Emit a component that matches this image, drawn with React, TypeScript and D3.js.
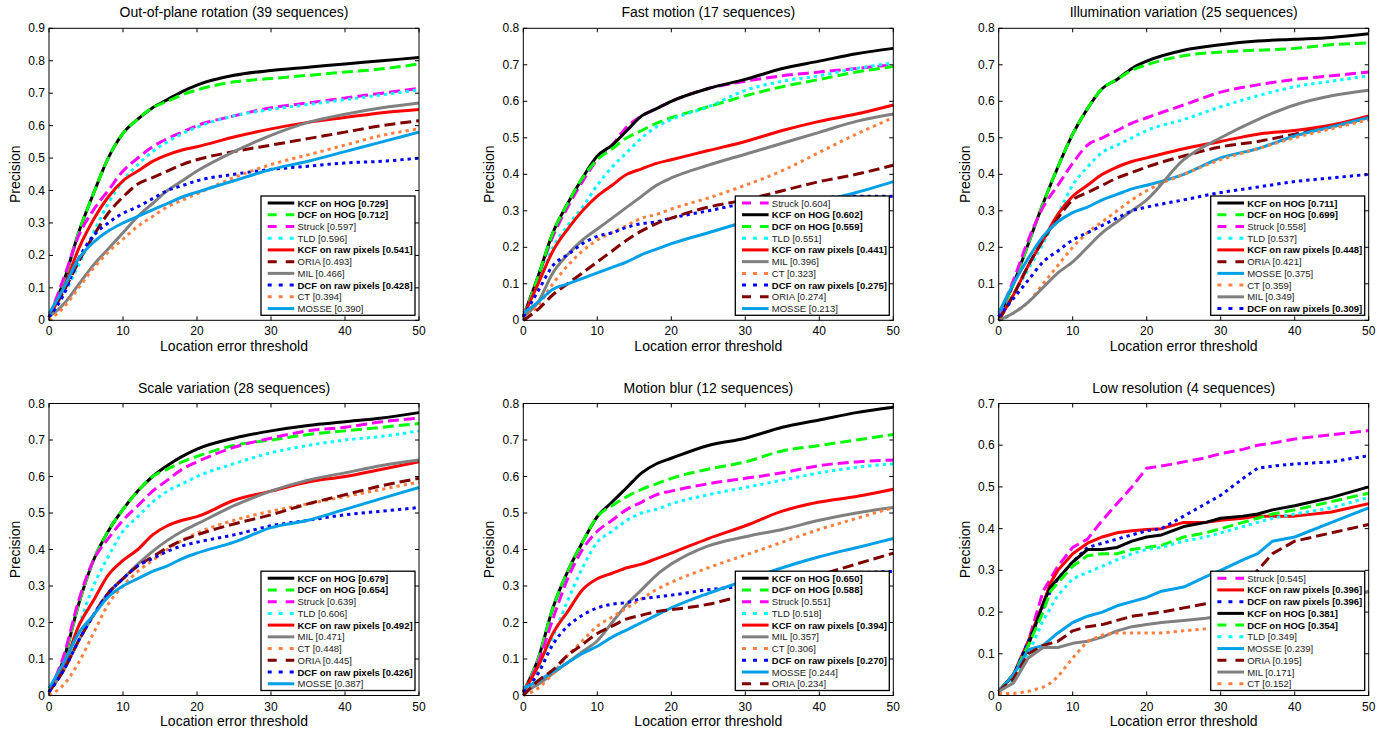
import React from "react";
import * as d3 from "d3";

const FONT = "'Liberation Sans', Arial, Helvetica, sans-serif";

// x positions (location error threshold) at which curves were read
const X_STD = [0, 2, 4, 6, 8, 10, 12, 14, 16, 18, 20, 25, 30, 35, 40, 45, 50];
const X_LOWRES = [0, 2, 4, 6, 7, 8, 10, 12, 14, 16, 18, 20, 22, 25, 28, 30, 33, 35, 37, 40, 45, 50];
const X_TICKS = [0, 10, 20, 30, 40, 50];

// ---------- Out-of-plane rotation ----------
const OPR_NAMES = ["KCF on HOG", "DCF on HOG", "Struck", "TLD", "KCF on raw pixels", "ORIA", "MIL", "DCF on raw pixels", "CT", "MOSSE"];
const OPR_SCORES = ["0.729", "0.712", "0.597", "0.596", "0.541", "0.493", "0.466", "0.428", "0.394", "0.390"];
const opr_kcfHog = [0.01, 0.12, 0.27, 0.39, 0.5, 0.576, 0.62, 0.655, 0.68, 0.705, 0.725, 0.755, 0.77, 0.78, 0.79, 0.8, 0.81];
const opr_dcfHog = [0.01, 0.12, 0.27, 0.39, 0.5, 0.576, 0.62, 0.655, 0.675, 0.695, 0.71, 0.735, 0.745, 0.755, 0.765, 0.775, 0.79];
const opr_struck = [0.01, 0.13, 0.26, 0.34, 0.4, 0.46, 0.5, 0.535, 0.56, 0.58, 0.6, 0.63, 0.655, 0.67, 0.685, 0.7, 0.715];
const opr_tld = [0.01, 0.08, 0.17, 0.27, 0.36, 0.43, 0.48, 0.52, 0.55, 0.575, 0.595, 0.63, 0.65, 0.665, 0.68, 0.695, 0.71];
const opr_kcfRaw = [0.01, 0.1, 0.22, 0.31, 0.38, 0.43, 0.46, 0.49, 0.51, 0.525, 0.535, 0.565, 0.59, 0.61, 0.625, 0.64, 0.65];
const opr_oria = [0.01, 0.09, 0.18, 0.26, 0.33, 0.38, 0.42, 0.44, 0.46, 0.48, 0.495, 0.52, 0.54, 0.56, 0.58, 0.6, 0.615];
const opr_mil = [0.01, 0.05, 0.11, 0.17, 0.22, 0.27, 0.32, 0.36, 0.4, 0.43, 0.46, 0.52, 0.57, 0.61, 0.635, 0.655, 0.67];
const opr_dcfRaw = [0.01, 0.08, 0.19, 0.26, 0.3, 0.33, 0.35, 0.375, 0.4, 0.415, 0.43, 0.45, 0.465, 0.475, 0.485, 0.49, 0.5];
const opr_ct = [0.0, 0.04, 0.1, 0.16, 0.21, 0.25, 0.29, 0.32, 0.35, 0.37, 0.39, 0.44, 0.48, 0.51, 0.54, 0.57, 0.59];
const opr_mosse = [0.02, 0.1, 0.19, 0.24, 0.275, 0.3, 0.32, 0.34, 0.36, 0.38, 0.395, 0.43, 0.465, 0.49, 0.52, 0.55, 0.58];

// ---------- Fast motion ----------
const FM_NAMES = ["Struck", "KCF on HOG", "DCF on HOG", "TLD", "KCF on raw pixels", "MIL", "CT", "DCF on raw pixels", "ORIA", "MOSSE"];
const FM_SCORES = ["0.604", "0.602", "0.559", "0.551", "0.441", "0.396", "0.323", "0.275", "0.274", "0.213"];
const fm_struck = [0.01, 0.12, 0.23, 0.31, 0.38, 0.44, 0.48, 0.53, 0.56, 0.58, 0.6, 0.635, 0.655, 0.67, 0.68, 0.69, 0.7];
const fm_kcfHog = [0.01, 0.12, 0.24, 0.32, 0.39, 0.45, 0.48, 0.52, 0.56, 0.58, 0.6, 0.635, 0.66, 0.69, 0.71, 0.73, 0.745];
const fm_dcfHog = [0.01, 0.12, 0.24, 0.32, 0.39, 0.44, 0.47, 0.5, 0.52, 0.54, 0.555, 0.585, 0.615, 0.64, 0.66, 0.68, 0.695];
const fm_tld = [0.01, 0.1, 0.2, 0.26, 0.31, 0.37, 0.42, 0.46, 0.5, 0.53, 0.55, 0.585, 0.63, 0.655, 0.67, 0.69, 0.705];
const fm_kcfRaw = [0.01, 0.1, 0.19, 0.25, 0.3, 0.34, 0.37, 0.4, 0.415, 0.43, 0.44, 0.465, 0.49, 0.52, 0.545, 0.565, 0.59];
const fm_mil = [0.01, 0.05, 0.13, 0.18, 0.22, 0.25, 0.28, 0.31, 0.34, 0.37, 0.39, 0.425, 0.455, 0.485, 0.515, 0.545, 0.565];
const fm_ct = [0.0, 0.04, 0.1, 0.15, 0.19, 0.22, 0.24, 0.26, 0.28, 0.29, 0.305, 0.335, 0.37, 0.41, 0.46, 0.51, 0.555];
const fm_dcfRaw = [0.01, 0.08, 0.15, 0.18, 0.21, 0.23, 0.24, 0.255, 0.265, 0.27, 0.28, 0.3, 0.32, 0.33, 0.335, 0.34, 0.34];
const fm_oria = [0.0, 0.03, 0.07, 0.1, 0.13, 0.16, 0.19, 0.22, 0.245, 0.265, 0.28, 0.31, 0.33, 0.355, 0.38, 0.4, 0.425];
const fm_mosse = [0.02, 0.05, 0.085, 0.1, 0.115, 0.13, 0.145, 0.16, 0.18, 0.195, 0.21, 0.24, 0.27, 0.295, 0.325, 0.35, 0.38];

// ---------- Illumination variation ----------
const IV_NAMES = ["KCF on HOG", "DCF on HOG", "Struck", "TLD", "KCF on raw pixels", "ORIA", "MOSSE", "CT", "MIL", "DCF on raw pixels"];
const IV_SCORES = ["0.711", "0.699", "0.558", "0.537", "0.448", "0.421", "0.375", "0.359", "0.349", "0.309"];
const iv_kcfHog = [0.01, 0.1, 0.21, 0.32, 0.42, 0.51, 0.58, 0.635, 0.66, 0.69, 0.71, 0.74, 0.755, 0.765, 0.77, 0.775, 0.785];
const iv_dcfHog = [0.01, 0.1, 0.21, 0.32, 0.42, 0.51, 0.58, 0.635, 0.66, 0.685, 0.7, 0.725, 0.735, 0.74, 0.745, 0.755, 0.76];
const iv_struck = [0.01, 0.11, 0.22, 0.31, 0.37, 0.43, 0.48, 0.5, 0.52, 0.54, 0.555, 0.59, 0.625, 0.645, 0.66, 0.67, 0.68];
const iv_tld = [0.01, 0.07, 0.14, 0.21, 0.29, 0.37, 0.42, 0.46, 0.48, 0.5, 0.52, 0.55, 0.585, 0.615, 0.64, 0.655, 0.67];
const iv_kcfRaw = [0.0, 0.07, 0.15, 0.22, 0.29, 0.34, 0.37, 0.4, 0.42, 0.435, 0.445, 0.47, 0.49, 0.51, 0.52, 0.535, 0.56];
const iv_oria = [0.0, 0.07, 0.15, 0.22, 0.28, 0.33, 0.35, 0.37, 0.39, 0.405, 0.42, 0.45, 0.475, 0.49, 0.51, 0.53, 0.555];
const iv_mosse = [0.02, 0.1, 0.17, 0.23, 0.27, 0.295, 0.31, 0.33, 0.345, 0.36, 0.37, 0.4, 0.445, 0.47, 0.505, 0.53, 0.555];
const iv_ct = [0.0, 0.02, 0.05, 0.1, 0.15, 0.2, 0.24, 0.27, 0.3, 0.33, 0.355, 0.4, 0.44, 0.47, 0.5, 0.525, 0.55];
const iv_mil = [0.0, 0.02, 0.05, 0.09, 0.13, 0.16, 0.2, 0.24, 0.27, 0.3, 0.33, 0.44, 0.5, 0.55, 0.59, 0.615, 0.63];
const iv_dcfRaw = [0.01, 0.06, 0.11, 0.16, 0.19, 0.22, 0.24, 0.26, 0.28, 0.3, 0.31, 0.33, 0.35, 0.365, 0.38, 0.39, 0.4];

// ---------- Scale variation ----------
const SV_NAMES = ["KCF on HOG", "DCF on HOG", "Struck", "TLD", "KCF on raw pixels", "MIL", "CT", "ORIA", "DCF on raw pixels", "MOSSE"];
const SV_SCORES = ["0.679", "0.654", "0.639", "0.606", "0.492", "0.471", "0.448", "0.445", "0.426", "0.387"];
const sv_kcfHog = [0.01, 0.1, 0.25, 0.37, 0.45, 0.51, 0.56, 0.6, 0.63, 0.655, 0.675, 0.705, 0.725, 0.74, 0.75, 0.76, 0.775];
const sv_dcfHog = [0.01, 0.1, 0.25, 0.37, 0.45, 0.51, 0.56, 0.6, 0.62, 0.64, 0.655, 0.685, 0.7, 0.715, 0.725, 0.735, 0.745];
const sv_struck = [0.01, 0.11, 0.26, 0.37, 0.43, 0.48, 0.52, 0.56, 0.59, 0.62, 0.64, 0.68, 0.705, 0.725, 0.735, 0.75, 0.76];
const sv_tld = [0.01, 0.08, 0.19, 0.3, 0.38, 0.45, 0.49, 0.53, 0.56, 0.58, 0.6, 0.635, 0.665, 0.685, 0.7, 0.71, 0.725];
const sv_kcfRaw = [0.01, 0.08, 0.19, 0.26, 0.33, 0.37, 0.4, 0.44, 0.465, 0.48, 0.49, 0.535, 0.56, 0.585, 0.6, 0.62, 0.64];
const sv_mil = [0.01, 0.07, 0.15, 0.22, 0.28, 0.32, 0.36, 0.395, 0.425, 0.45, 0.47, 0.52, 0.56, 0.59, 0.61, 0.63, 0.645];
const sv_ct = [0.0, 0.03, 0.09, 0.17, 0.25, 0.3, 0.34, 0.37, 0.4, 0.425, 0.445, 0.48, 0.505, 0.525, 0.545, 0.565, 0.585];
const sv_oria = [0.01, 0.07, 0.15, 0.22, 0.28, 0.32, 0.355, 0.38, 0.405, 0.425, 0.44, 0.47, 0.495, 0.525, 0.55, 0.575, 0.595];
const sv_dcfRaw = [0.01, 0.07, 0.15, 0.22, 0.28, 0.32, 0.355, 0.375, 0.395, 0.41, 0.42, 0.44, 0.465, 0.48, 0.495, 0.505, 0.515];
const sv_mosse = [0.02, 0.09, 0.17, 0.22, 0.27, 0.3, 0.32, 0.34, 0.355, 0.375, 0.39, 0.42, 0.46, 0.48, 0.51, 0.54, 0.57];

// ---------- Motion blur ----------
const MB_NAMES = ["KCF on HOG", "DCF on HOG", "Struck", "TLD", "KCF on raw pixels", "MIL", "CT", "DCF on raw pixels", "MOSSE", "ORIA"];
const MB_SCORES = ["0.650", "0.588", "0.551", "0.518", "0.394", "0.357", "0.306", "0.270", "0.244", "0.234"];
const mb_kcfHog = [0.01, 0.1, 0.24, 0.34, 0.42, 0.49, 0.53, 0.57, 0.61, 0.635, 0.65, 0.685, 0.705, 0.735, 0.755, 0.775, 0.79];
const mb_dcfHog = [0.01, 0.1, 0.24, 0.34, 0.42, 0.49, 0.52, 0.545, 0.565, 0.58, 0.595, 0.62, 0.64, 0.67, 0.685, 0.7, 0.715];
const mb_struck = [0.01, 0.09, 0.21, 0.32, 0.4, 0.45, 0.48, 0.51, 0.53, 0.55, 0.56, 0.58, 0.595, 0.61, 0.63, 0.64, 0.645];
const mb_tld = [0.01, 0.07, 0.16, 0.26, 0.35, 0.42, 0.45, 0.48, 0.5, 0.51, 0.525, 0.55, 0.57, 0.59, 0.61, 0.625, 0.635];
const mb_kcfRaw = [0.01, 0.08, 0.17, 0.23, 0.29, 0.32, 0.335, 0.35, 0.36, 0.375, 0.39, 0.43, 0.465, 0.505, 0.53, 0.545, 0.565];
const mb_mil = [0.01, 0.03, 0.06, 0.09, 0.12, 0.15, 0.2, 0.25, 0.29, 0.33, 0.36, 0.41, 0.435, 0.455, 0.48, 0.5, 0.515];
const mb_ct = [0.0, 0.02, 0.06, 0.11, 0.15, 0.19, 0.215, 0.24, 0.265, 0.29, 0.31, 0.35, 0.385, 0.42, 0.455, 0.485, 0.515];
const mb_dcfRaw = [0.01, 0.06, 0.14, 0.19, 0.22, 0.24, 0.25, 0.255, 0.265, 0.27, 0.275, 0.29, 0.3, 0.315, 0.325, 0.335, 0.34];
const mb_mosse = [0.02, 0.04, 0.065, 0.09, 0.115, 0.135, 0.16, 0.18, 0.2, 0.22, 0.24, 0.28, 0.315, 0.35, 0.38, 0.405, 0.43];
const mb_oria = [0.0, 0.04, 0.07, 0.11, 0.14, 0.17, 0.19, 0.21, 0.22, 0.23, 0.235, 0.25, 0.275, 0.3, 0.33, 0.36, 0.39];

// ---------- Low resolution ----------
const LR_NAMES = ["Struck", "KCF on raw pixels", "DCF on raw pixels", "KCF on HOG", "DCF on HOG", "TLD", "MOSSE", "ORIA", "MIL", "CT"];
const LR_SCORES = ["0.545", "0.396", "0.396", "0.381", "0.354", "0.349", "0.239", "0.195", "0.171", "0.152"];
const lr_struck = [0.01, 0.05, 0.13, 0.25, 0.28, 0.31, 0.355, 0.375, 0.42, 0.46, 0.5, 0.545, 0.55, 0.56, 0.57, 0.58, 0.59, 0.6, 0.605, 0.615, 0.625, 0.635];
const lr_kcfRaw = [0.01, 0.05, 0.13, 0.22, 0.27, 0.3, 0.34, 0.365, 0.38, 0.39, 0.395, 0.398, 0.4, 0.415, 0.415, 0.42, 0.425, 0.43, 0.43, 0.43, 0.44, 0.46];
const lr_dcfRaw = [0.01, 0.05, 0.13, 0.21, 0.25, 0.28, 0.32, 0.355, 0.365, 0.375, 0.385, 0.395, 0.4, 0.43, 0.46, 0.48, 0.52, 0.545, 0.55, 0.555, 0.56, 0.575];
const lr_kcfHog = [0.01, 0.05, 0.12, 0.22, 0.26, 0.28, 0.32, 0.35, 0.35, 0.355, 0.37, 0.38, 0.385, 0.405, 0.415, 0.425, 0.43, 0.435, 0.445, 0.455, 0.475, 0.5];
const lr_dcfHog = [0.01, 0.05, 0.12, 0.2, 0.25, 0.27, 0.31, 0.335, 0.34, 0.34, 0.35, 0.355, 0.36, 0.38, 0.39, 0.4, 0.415, 0.425, 0.435, 0.445, 0.465, 0.485];
const lr_tld = [0.01, 0.04, 0.1, 0.18, 0.21, 0.24, 0.28, 0.295, 0.31, 0.325, 0.34, 0.35, 0.355, 0.37, 0.38, 0.39, 0.405, 0.415, 0.425, 0.435, 0.45, 0.475];
const lr_mosse = [0.01, 0.05, 0.11, 0.12, 0.135, 0.15, 0.175, 0.19, 0.2, 0.215, 0.225, 0.235, 0.25, 0.26, 0.285, 0.3, 0.325, 0.34, 0.37, 0.38, 0.415, 0.45];
const lr_oria = [0.01, 0.04, 0.1, 0.12, 0.125, 0.13, 0.155, 0.165, 0.17, 0.18, 0.19, 0.195, 0.2, 0.21, 0.22, 0.23, 0.26, 0.3, 0.34, 0.37, 0.39, 0.41];
const lr_mil = [0.01, 0.03, 0.09, 0.115, 0.115, 0.115, 0.125, 0.13, 0.14, 0.155, 0.165, 0.17, 0.175, 0.18, 0.185, 0.19, 0.195, 0.2, 0.205, 0.21, 0.22, 0.25];
const lr_ct = [0.005, 0.005, 0.01, 0.02, 0.03, 0.045, 0.09, 0.13, 0.145, 0.15, 0.15, 0.15, 0.15, 0.155, 0.16, 0.165, 0.17, 0.17, 0.175, 0.18, 0.195, 0.22];

type Dash = "solid" | "dashed" | "dotted";
const STYLE: Record<string, { color: string; dash: Dash; bold: boolean }> = {
  "KCF on HOG": { color: "#000000", dash: "solid", bold: true },
  "DCF on HOG": { color: "#00ff00", dash: "dashed", bold: true },
  Struck: { color: "#ff00ff", dash: "dashed", bold: false },
  TLD: { color: "#00ffff", dash: "dotted", bold: false },
  "KCF on raw pixels": { color: "#ff0000", dash: "solid", bold: true },
  ORIA: { color: "#800000", dash: "dashed", bold: false },
  MIL: { color: "#808080", dash: "solid", bold: false },
  "DCF on raw pixels": { color: "#0000ff", dash: "dotted", bold: true },
  CT: { color: "#ff8040", dash: "dotted", bold: false },
  MOSSE: { color: "#00a0e6", dash: "solid", bold: false },
};
const PLOT_DASH: Record<Dash, string | undefined> = { solid: undefined, dashed: "11,5", dotted: "3.3,4" };
const LEG_DASH: Record<Dash, string | undefined> = { solid: undefined, dashed: "9,9", dotted: "4,7" };

const W = 370;
const H = 292;

const PANELS = [
  { title: "Out-of-plane rotation (39 sequences)", left: 49, top: 28.3, yMax: 0.9, xs: X_STD, linear: false,
    names: OPR_NAMES, scores: OPR_SCORES,
    series: [opr_kcfHog, opr_dcfHog, opr_struck, opr_tld, opr_kcfRaw, opr_oria, opr_mil, opr_dcfRaw, opr_ct, opr_mosse] },
  { title: "Fast motion (17 sequences)", left: 523.3, top: 28.3, yMax: 0.8, xs: X_STD, linear: false,
    names: FM_NAMES, scores: FM_SCORES,
    series: [fm_struck, fm_kcfHog, fm_dcfHog, fm_tld, fm_kcfRaw, fm_mil, fm_ct, fm_dcfRaw, fm_oria, fm_mosse] },
  { title: "Illumination variation (25 sequences)", left: 998.7, top: 28.3, yMax: 0.8, xs: X_STD, linear: false,
    names: IV_NAMES, scores: IV_SCORES,
    series: [iv_kcfHog, iv_dcfHog, iv_struck, iv_tld, iv_kcfRaw, iv_oria, iv_mosse, iv_ct, iv_mil, iv_dcfRaw] },
  { title: "Scale variation (28 sequences)", left: 49, top: 403.5, yMax: 0.8, xs: X_STD, linear: false,
    names: SV_NAMES, scores: SV_SCORES,
    series: [sv_kcfHog, sv_dcfHog, sv_struck, sv_tld, sv_kcfRaw, sv_mil, sv_ct, sv_oria, sv_dcfRaw, sv_mosse] },
  { title: "Motion blur (12 sequences)", left: 523.3, top: 403.5, yMax: 0.8, xs: X_STD, linear: false,
    names: MB_NAMES, scores: MB_SCORES,
    series: [mb_kcfHog, mb_dcfHog, mb_struck, mb_tld, mb_kcfRaw, mb_mil, mb_ct, mb_dcfRaw, mb_mosse, mb_oria] },
  { title: "Low resolution (4 sequences)", left: 998.7, top: 403.5, yMax: 0.7, xs: X_LOWRES, linear: true,
    names: LR_NAMES, scores: LR_SCORES,
    series: [lr_struck, lr_kcfRaw, lr_dcfRaw, lr_kcfHog, lr_dcfHog, lr_tld, lr_mosse, lr_oria, lr_mil, lr_ct] },
];

function Panel({ p }: { p: (typeof PANELS)[number] }) {
  const x = d3.scaleLinear().domain([0, 50]).range([p.left, p.left + W]);
  const y = d3.scaleLinear().domain([0, p.yMax]).range([p.top + H, p.top]);
  const yTicks = d3.range(0, Math.round(p.yMax * 10) + 1).map((i) => i / 10);
  const bottom = p.top + H;
  const right = p.left + W;
  const line = d3
    .line<number>()
    .x((_, i) => x(p.xs[i]))
    .y((d) => y(d))
    .curve(p.linear ? d3.curveLinear : d3.curveMonotoneX);
  const tick = 4;
  const legW = 154;
  const legH = 119.3;
  const legRight = right - 4;
  const legBottom = bottom - 5;
  const legLeft = legRight - legW;
  const legTop = legBottom - legH;
  const fmtY = (v: number) => (v === 0 ? "0" : d3.format(".1f")(v));
  return (
    <g>
      <text x={p.left + W / 2} y={p.top - 16} textAnchor="middle" dominantBaseline="central" fontSize={14} fontFamily={FONT}>
        {p.title}
      </text>
      <rect x={p.left} y={p.top} width={W} height={H} fill="#fff" />
      {p.series.map((s, i) => {
        const st = STYLE[p.names[i]];
        return (
          <path key={i} d={line(s) || ""} fill="none" stroke={st.color} strokeWidth={3}
            strokeDasharray={PLOT_DASH[st.dash]} strokeLinejoin="round" strokeLinecap="butt" />
        );
      })}
      {/* axes box */}
      <rect x={p.left} y={p.top} width={W} height={H} fill="none" stroke="#000" strokeWidth={1} />
      {X_TICKS.map((t) => (
        <g key={"x" + t}>
          <line x1={x(t)} x2={x(t)} y1={bottom} y2={bottom - tick} stroke="#000" />
          <line x1={x(t)} x2={x(t)} y1={p.top} y2={p.top + tick} stroke="#000" />
          <text x={x(t)} y={bottom + 11} textAnchor="middle" dominantBaseline="central" fontSize={12} fontFamily={FONT}>
            {t}
          </text>
        </g>
      ))}
      {yTicks.map((t) => (
        <g key={"y" + t}>
          <line x1={p.left} x2={p.left + tick} y1={y(t)} y2={y(t)} stroke="#000" />
          <line x1={right} x2={right - tick} y1={y(t)} y2={y(t)} stroke="#000" />
          <text x={p.left - 4} y={y(t)} textAnchor="end" dominantBaseline="central" fontSize={12} fontFamily={FONT}>
            {fmtY(t)}
          </text>
        </g>
      ))}
      <text x={p.left + W / 2} y={bottom + 25.5} textAnchor="middle" dominantBaseline="central" fontSize={14} fontFamily={FONT}>
        Location error threshold
      </text>
      <text transform={`translate(${p.left - 34},${p.top + H / 2}) rotate(-90)`} textAnchor="middle" dominantBaseline="central"
        fontSize={14} fontFamily={FONT}>
        Precision
      </text>
      {/* legend */}
      <rect x={legLeft} y={legTop} width={legW} height={legH} fill="#fff" stroke="#000" strokeWidth={1.3} />
      {p.names.map((n, i) => {
        const st = STYLE[n];
        const cy = legTop + 7 + i * 11.73;
        return (
          <g key={"l" + i}>
            <line x1={legLeft + 6.7} x2={legLeft + 33.3} y1={cy} y2={cy} stroke={st.color} strokeWidth={3}
              strokeDasharray={LEG_DASH[st.dash]} />
            <text x={legLeft + 36.5} y={cy} dominantBaseline="central" fontSize={9.5} fontFamily={FONT}
              fontWeight={st.bold ? "bold" : "normal"} fill={st.bold ? "#000" : "#222"}>
              {`${n} [${p.scores[i]}]`}
            </text>
          </g>
        );
      })}
    </g>
  );
}

export default function App() {
  return (
    <svg width={1386} height={732} style={{ position: "absolute", left: 0, top: 0, background: "#fff" }}>
      <rect x={0} y={0} width={1386} height={732} fill="#fff" />
      {PANELS.map((p, i) => (
        <Panel key={i} p={p} />
      ))}
    </svg>
  );
}
